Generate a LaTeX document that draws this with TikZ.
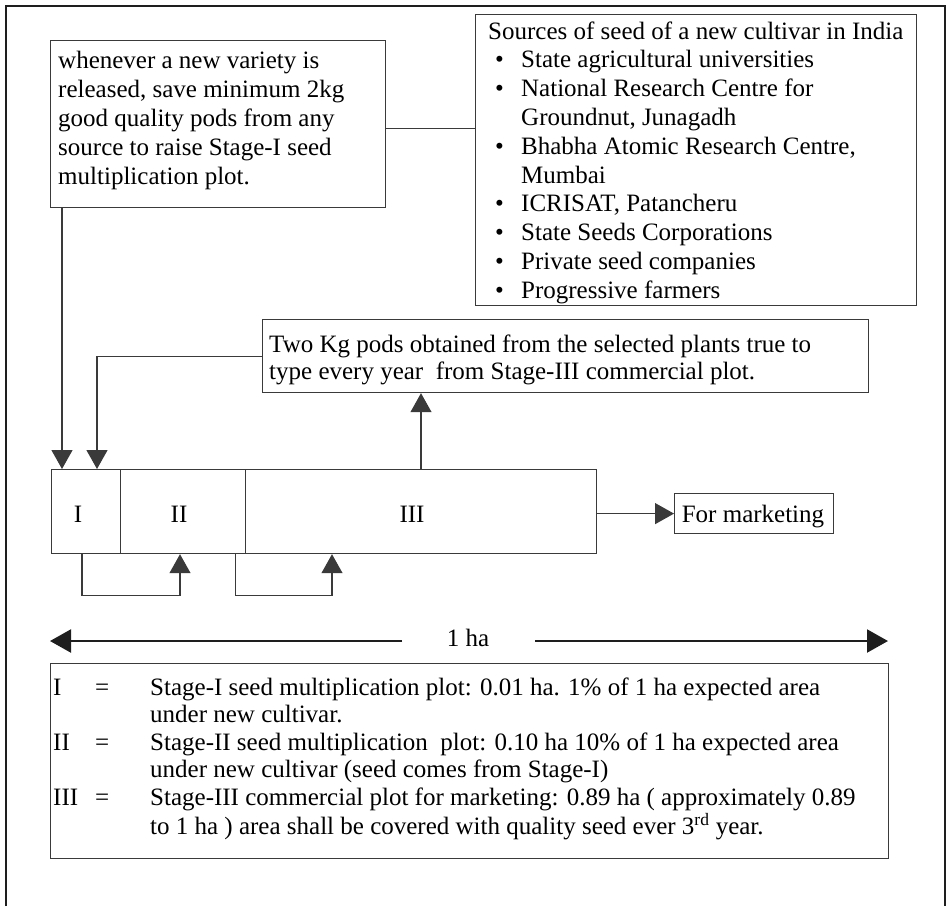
\documentclass[tikz,border=0pt]{standalone}
\usepackage{fontspec}
\setmainfont{Liberation Serif}
\usetikzlibrary{arrows.meta}
\definecolor{boxc}{HTML}{3A3A3A}
\definecolor{framec}{HTML}{1E1E1E}
\begin{document}
\begin{tikzpicture}[x=1pt,y=-1pt,
  box/.style={draw=boxc, line width=1.2pt, inner sep=0pt, anchor=north west},
  txt/.style={inner sep=0pt, anchor=base west, font=\fontsize{25}{29}\selectfont},
  link/.style={draw=boxc, line width=1.2pt},
  arr/.style={link, -{Triangle[width=21pt,length=19pt]}},
  bigarr/.style={draw=framec, line width=2.2pt, -{Triangle[width=23pt,length=21pt]}},
]
\useasboundingbox (0,0) rectangle (947,906);
\draw[line width=2pt, framec] (6,906) -- (6,6) -- (945,6) -- (945,906);

% boxes
\node[box, minimum width=335pt, minimum height=167pt] (A) at (50,40) {};
\node[box, minimum width=441pt, minimum height=291pt] (B) at (475,14) {};
\node[box, minimum width=606pt, minimum height=73pt] (C) at (262,319) {};
\node[box, minimum width=69pt, minimum height=84pt] (S1) at (51,469) {};
\node[box, minimum width=125pt, minimum height=84pt] (S2) at (120,469) {};
\node[box, minimum width=351pt, minimum height=84pt] (S3) at (245,469) {};
\node[box, minimum width=159pt, minimum height=40pt] (M) at (674,493) {};
\node[box, minimum width=838pt, minimum height=195pt] (L) at (50,663) {};

% texts
\node[txt] (At) at (58,68) {\begin{tabular}[t]{@{}l@{}}whenever a new variety is\\released, save minimum 2kg\\good quality pods from any\\source to raise Stage-I seed\\multiplication plot.\end{tabular}};

\node[txt, font=\fontsize{25}{28.8}\selectfont] (Bt) at (488,39) {\begin{tabular}[t]{@{\hspace{7pt}}p{26pt}@{}l@{}}
\multicolumn{2}{@{}l@{}}{Sources of seed of a new cultivar in India}\\
\textbullet & State agricultural universities\\
\textbullet & National Research Centre for\\
 & Groundnut, Junagadh\\
\textbullet & Bhabha Atomic Research Centre,\\
 & Mumbai\\
\textbullet & ICRISAT, Patancheru\\
\textbullet & State Seeds Corporations\\
\textbullet & Private seed companies\\
\textbullet & Progressive farmers
\end{tabular}};

\node[txt, font=\fontsize{25}{27.5}\selectfont] (Ct) at (269,352) {\begin{tabular}[t]{@{}l@{}}Two Kg pods obtained from the selected plants true to\\type every year\ \ from Stage-III commercial plot.\end{tabular}};

\node[txt, anchor=base] (S1t) at (78,522) {I};
\node[txt, anchor=base] (S2t) at (179,522) {II};
\node[txt, anchor=base] (S3t) at (412,522) {III};
\node[txt, anchor=base] (Mt) at (753,522) {For marketing};

\node[txt, anchor=base] (ha) at (468,646) {1 ha};

\node[txt, font=\fontsize{25}{27.6}\selectfont] (Lt) at (53,695) {\begin{tabular}[t]{@{}p{42pt}@{}p{55pt}@{}l@{}}
I & = & Stage-I seed multiplication plot: 0.01 ha. 1\% of 1 ha expected area\\
 & & under new cultivar.\\
II & = & Stage-II seed multiplication\ \ plot: 0.10 ha 10\% of 1 ha expected area\\
 & & under new cultivar (seed comes from Stage-I)\\
III & = & Stage-III commercial plot for marketing: 0.89 ha ( approximately 0.89\\
 & & to 1 ha ) area shall be covered with quality seed ever 3\textsuperscript{rd} year.
\end{tabular}};

% connectors
\draw[link] ([yshift=-4.5pt]A.east) -- ([yshift=-4.5pt]A.east -| B.west);
\draw[arr] ([xshift=12pt]A.south west) -- ([xshift=11pt]S1.north west);
\draw[arr] (C.west) -| ([xshift=46pt]S1.north west);
\draw[arr] ([xshift=176pt]S3.north west) -- ([xshift=176pt]S3.north west |- C.south);
\draw[arr] (S3.east |- M.west) -- (M.west);
\draw[arr] ([xshift=31pt]S1.south west) -- ++(0,41) -| ([xshift=60pt]S2.south west);
\draw[arr] ([xshift=-11pt]S2.south east) -- ++(0,41) -| ([xshift=87pt]S3.south west);

\coordinate (hlg) at (402,641);
\coordinate (hl) at (50,641);
\coordinate (hrg) at (535,641);
\coordinate (hr) at (888,641);
\draw[bigarr] (hlg) -- (hl);
\draw[bigarr] (hrg) -- (hr);
\end{tikzpicture}
\end{document}
